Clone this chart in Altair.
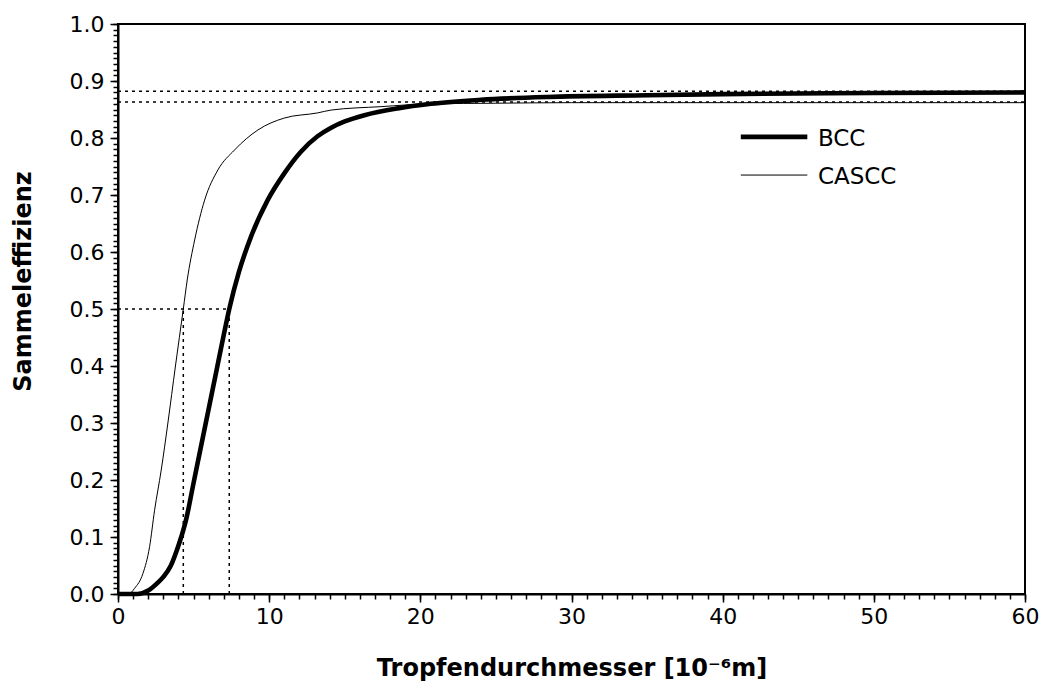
import altair as alt
import pandas as pd

# ---- data ----
series_names = ["BCC", "CASCC"]

bcc_x = [0, 1.3, 2.0, 2.6, 3.0, 3.5, 4.0, 4.32, 4.5, 5.0, 5.5, 6.0, 6.5, 7.0, 7.36, 8.0,
         8.8, 9.9, 11.0, 12.1, 13.2, 14.1, 15.0, 16.3, 18.5, 20.7, 24.0, 28.4, 35.0, 40.0, 50.0, 60.0]
bcc_y = [0, 0, 0.006, 0.019, 0.03, 0.05, 0.085, 0.112, 0.13, 0.195, 0.26, 0.325, 0.39, 0.455, 0.5, 0.565,
         0.627, 0.691, 0.738, 0.776, 0.803, 0.818, 0.829, 0.84, 0.852, 0.86, 0.867, 0.872, 0.875, 0.877, 0.879, 0.88]

cascc_x = [0, 0.7, 1.1, 1.65, 2.09, 2.42, 2.86, 3.3, 3.8, 4.32, 4.58, 5.07, 5.73, 6.61, 7.71, 9.25,
           11.0, 13.2, 14.1, 17.4, 20.7, 25.0, 30.0, 40.0, 50.0, 60.0]
cascc_y = [0, 0, 0.01, 0.036, 0.083, 0.147, 0.2175, 0.3, 0.4, 0.5, 0.551, 0.621, 0.691, 0.744, 0.779, 0.814,
           0.835, 0.844, 0.849, 0.855, 0.86, 0.861, 0.862, 0.862, 0.862, 0.862]

# dotted reference lines (data coordinates)
ref_x = [0, 0, 0, 4.32, 7.36]
ref_x2 = [60, 60, 7.36, 4.32, 7.36]
ref_y = [0.882, 0.863, 0.5, 0, 0]
ref_y2 = [0.882, 0.863, 0.5, 0.5, 0.5]

# tick values
x_major = [0, 10, 20, 30, 40, 50, 60]
x_minor = list(range(0, 61))
y_major = [round(i / 10, 1) for i in range(11)]
y_minor = [round(i / 100, 2) for i in range(101)]

# legend placement (data coordinates)
leg_x1 = [41.2, 41.2]
leg_x2 = [45.6, 45.6]
leg_y = [0.802, 0.735]
leg_tx = [46.3, 46.3]

FONT = "DejaVu Sans"

curves = pd.concat([
    pd.DataFrame({"x": bcc_x, "y": bcc_y, "series": "BCC"}),
    pd.DataFrame({"x": cascc_x, "y": cascc_y, "series": "CASCC"}),
])
refs = pd.DataFrame({"x": ref_x, "x2": ref_x2, "y": ref_y, "y2": ref_y2})
legend_df = pd.DataFrame({"series": series_names, "x1": leg_x1, "x2": leg_x2, "y": leg_y, "tx": leg_tx})

xscale = alt.Scale(domain=[0, 60], nice=False)
yscale = alt.Scale(domain=[0, 1], nice=False)
sw_scale = alt.Scale(domain=series_names, range=[4.6, 1.0])

ref_layer = alt.Chart(refs).mark_rule(color="black", strokeWidth=1.5, strokeDash=[3, 4]).encode(
    x=alt.X("x:Q", scale=xscale, title=None,
            axis=alt.Axis(orient="bottom", values=x_minor, labels=False, domain=False,
                          tickSize=5, grid=False)),
    x2="x2:Q",
    y=alt.Y("y:Q", scale=yscale, title=None,
            axis=alt.Axis(orient="left", values=y_minor, labels=False, domain=False,
                          tickSize=5, grid=False)),
    y2="y2:Q",
)

curve_layer = alt.Chart(curves).mark_line(color="black", interpolate="monotone").encode(
    x=alt.X("x:Q", scale=xscale,
            axis=alt.Axis(orient="bottom", values=x_major, format="d", tickSize=8,
                          labelPadding=4, labelFlush=False, title="Tropfendurchmesser [10⁻⁶m]",
                          titleBaseline="alphabetic", titleY=81, grid=False)),
    y=alt.Y("y:Q", scale=yscale,
            axis=alt.Axis(orient="left", values=y_major, format=".1f", tickSize=8,
                          labelPadding=6, labelFlush=False, title="Sammeleffizienz",
                          titleBaseline="alphabetic", titleX=-88, titleY=257,
                          titleAlign="center", grid=False)),
    strokeWidth=alt.StrokeWidth("series:N", scale=sw_scale, legend=None),
    detail="series:N",
)

leg_rules = alt.Chart(legend_df).mark_rule(color="black").encode(
    x=alt.X("x1:Q", scale=xscale, axis=None),
    x2="x2:Q",
    y=alt.Y("y:Q", scale=yscale, axis=None),
    strokeWidth=alt.StrokeWidth("series:N", scale=sw_scale, legend=None),
)

leg_text = alt.Chart(legend_df).mark_text(
    align="left", baseline="middle", font=FONT, fontSize=23, color="black", dy=2
).encode(
    x=alt.X("tx:Q", scale=xscale, axis=None),
    y=alt.Y("y:Q", scale=yscale, axis=None),
    text="series:N",
)

chart = alt.layer(ref_layer, curve_layer, leg_rules, leg_text).resolve_axis(
    x="independent", y="independent"
).properties(
    width=907, height=570,
    autosize=alt.AutoSizeParams(type="none"),
    padding={"left": 110, "top": 16, "right": 14, "bottom": 87},
    background="white",
).configure_view(
    stroke="black", strokeWidth=2
).configure_axis(
    domainColor="black", domainWidth=2, tickColor="black", tickWidth=1.5,
    labelColor="black", labelFont=FONT, labelFontSize=22,
    titleColor="black", titleFont=FONT, titleFontSize=24, titleFontWeight="bold",
)

chart.save("out.html", embed_options={"renderer": "svg", "actions": False})
